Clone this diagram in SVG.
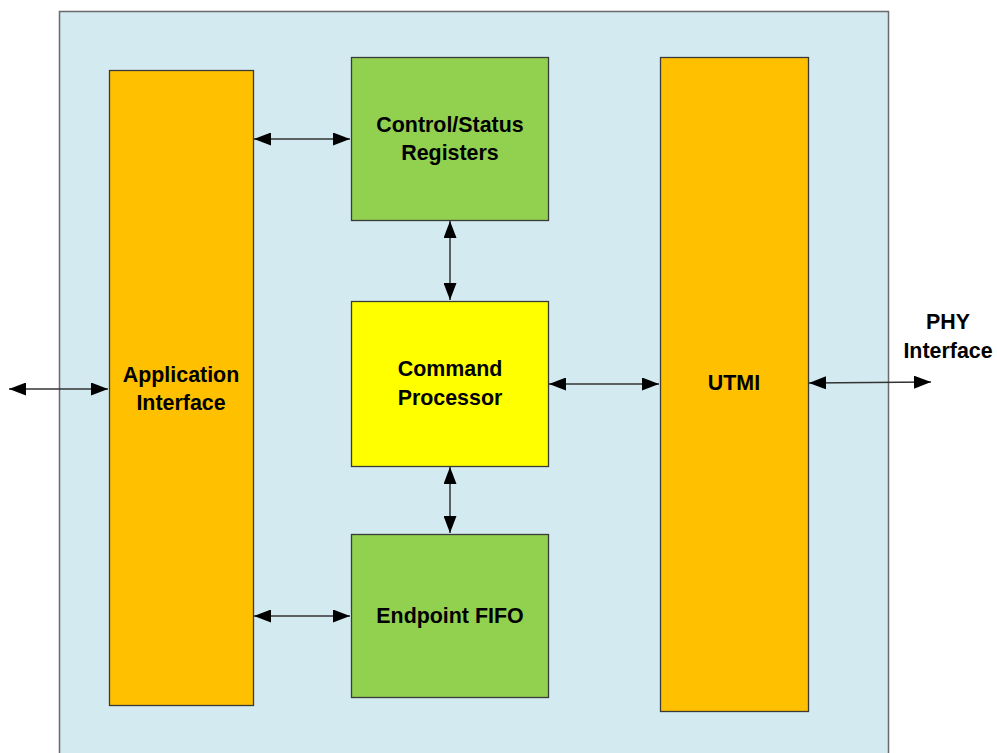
<svg xmlns="http://www.w3.org/2000/svg" width="997" height="753" viewBox="0 0 997 753">
<style>
.box{stroke:#3a3a3a;stroke-width:1.3}
.orange{fill:#ffc000}
.green{fill:#92d050}
.yellow{fill:#ffff00}
.lbl{font-family:"Liberation Sans",Arial,sans-serif;font-weight:bold;font-size:21.4px;fill:#000;text-anchor:middle}
.conn{stroke:#333;stroke-width:1.5;fill:none;marker-start:url(#ah);marker-end:url(#ah)}
</style>
<defs>
<marker id="ah" viewBox="0 0 17 13" refX="17" refY="6.5" markerWidth="17" markerHeight="13" markerUnits="userSpaceOnUse" orient="auto-start-reverse">
<path d="M0,0 L17,6.5 L0,13 Z" fill="#000"/>
</marker>
</defs>
<g id="system"><rect x="59.5" y="11.5" width="829" height="760" fill="#d2eaf0" stroke="#6a6a6a" stroke-width="1.5"/></g>
<g id="app"><rect class="box orange" x="109.5" y="70.5" width="144" height="635"/>
<text class="lbl" x="181" y="382">Application</text><text class="lbl" x="181" y="410">Interface</text></g>
<g id="csr"><rect class="box green" x="351.5" y="57.5" width="197" height="163"/>
<text class="lbl" x="450" y="132">Control/Status</text><text class="lbl" x="450" y="160">Registers</text></g>
<g id="cmd"><rect class="box yellow" x="351.5" y="301.5" width="197" height="165"/>
<text class="lbl" x="450" y="376">Command</text><text class="lbl" x="450" y="405">Processor</text></g>
<g id="fifo"><rect class="box green" x="351.5" y="534.5" width="197" height="163"/>
<text class="lbl" x="450" y="623">Endpoint FIFO</text></g>
<g id="utmi"><rect class="box orange" x="660.5" y="57.5" width="148" height="654"/>
<text class="lbl" x="734" y="390">UTMI</text></g>
<g id="phy"><text class="lbl" x="948" y="329">PHY</text><text class="lbl" x="948" y="358">Interface</text></g>
<g id="connectors">
<line class="conn" x1="254" y1="139" x2="350" y2="139"/>
<line class="conn" x1="9" y1="389" x2="108" y2="389"/>
<line class="conn" x1="549" y1="384" x2="659" y2="384"/>
<line class="conn" x1="809" y1="383" x2="931" y2="382"/>
<line class="conn" x1="450" y1="221" x2="450" y2="300"/>
<line class="conn" x1="450" y1="467" x2="450" y2="533"/>
<line class="conn" x1="254" y1="616" x2="350" y2="616"/>
</g>
</svg>
